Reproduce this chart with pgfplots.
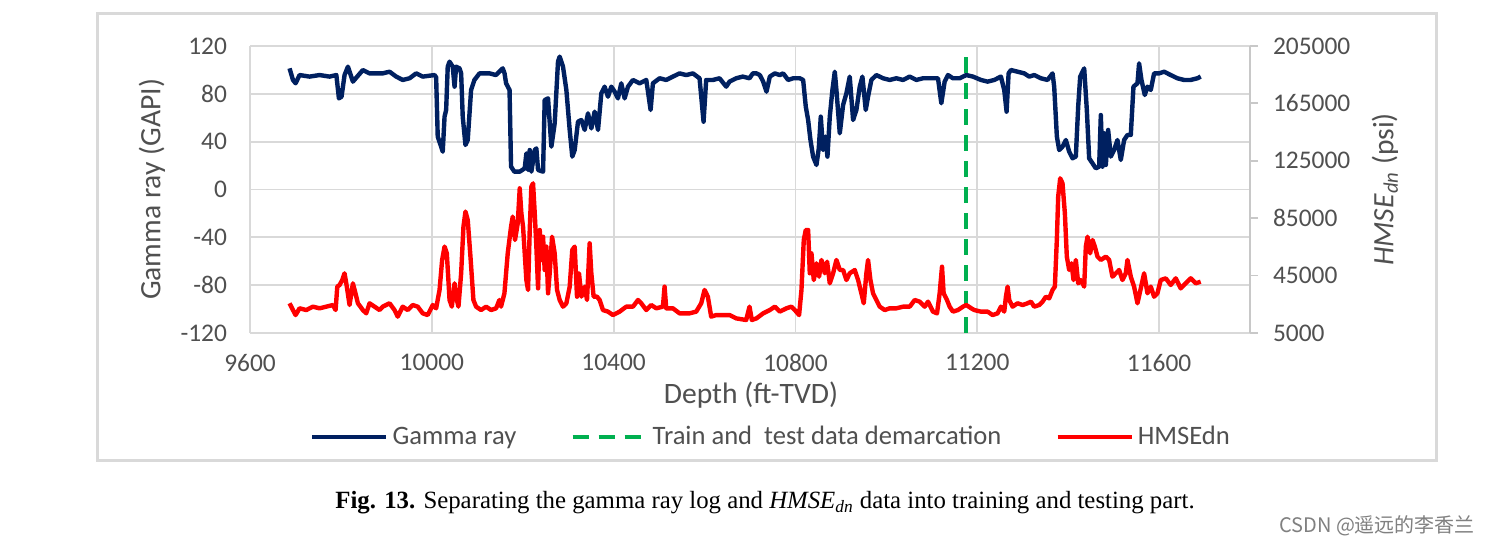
\documentclass[border=0pt]{standalone}
\usepackage{fontspec}
\setmainfont{Carlito}
\newfontfamily\capfont{Liberation Serif}
\newfontfamily\cjk{Noto Sans CJK SC}
\usepackage{pgfplots}
\usepackage{pgfplotstable}
\pgfplotsset{compat=1.18}
\definecolor{grblue}{HTML}{002060}
\definecolor{hred}{HTML}{FF0000}
\definecolor{dgreen}{HTML}{00B050}
\definecolor{gridc}{HTML}{D9D9D9}
\definecolor{axc}{HTML}{C8C8C8}
\definecolor{txt}{HTML}{505050}
\definecolor{framec}{HTML}{D9D9D9}

\pgfplotstableread{
d g
9687 101.3
9694.5 91.6
9700.3 88.8
9709 95.7
9731 94.4
9753 95.7
9775 94.4
9790 95.7
9795.6 76.2
9801.4 77.6
9808 95.7
9815.4 102.7
9826.4 90.2
9848.3 99.9
9863 97.1
9892 97.1
9907 98.5
9921.6 94.4
9936 91.6
9951 93
9965.5 97.1
9980 94.4
10006 95.7
10009.5 93.8
10013 44.2
10020.5 35.8
10024 31.6
10028 60.9
10031.5 66.5
10035 102.7
10039 106.9
10046 102.7
10050 86
10053.5 102.7
10061 101.3
10064.5 97.1
10068 60.9
10074 37.2
10079 41.4
10086.4 83.2
10093.7 91.6
10105 97.1
10127 97.1
10141 95.7
10156 101.3
10160 97.1
10163.4 88.8
10171 83.2
10174.3 19.1
10181.6 14.9
10193.4 14.9
10204.4 17.7
10208 30.2
10211.7 16.3
10215.4 33
10219 14.9
10226.4 33
10230 34.4
10233.7 16.3
10244.7 14.9
10248.3 74.8
10255.7 76.2
10263 35.8
10270.3 55.3
10277.6 106.9
10281.3 111.1
10288.6 102.7
10296 83.2
10303.3 49.8
10309 27.5
10314.3 33
10321.6 56.7
10329 58.1
10336.3 49.8
10343.6 63.7
10351 51.1
10358.2 65.1
10365.6 49.8
10372.9 80.4
10380.2 86
10387.5 77.6
10394.9 86
10402.2 81.8
10409.5 76.2
10416.8 88.8
10424.2 76.2
10431.5 86
10442.5 91.6
10457.1 88.8
10471.8 91.6
10481.3 66.5
10486.4 88.8
10501 93
10515.7 91.6
10530.4 94.4
10545 97.1
10559.7 95.7
10574.4 97.1
10589 93
10597.8 56.7
10603.6 91.6
10618.3 91.6
10633 93
10647.6 86
10655 90.2
10669.6 93
10684.2 94.4
10698.9 93
10706.2 97.1
10714.3 97.1
10721.6 95.7
10729 90.2
10736.3 81.8
10743.6 94.4
10754.6 97.1
10765.6 95.7
10772.9 97.1
10783.9 91.6
10794.9 93
10809.5 93
10816.9 91.6
10822.7 69.3
10827.9 58.1
10833 41.4
10838.8 27.5
10846.2 20.5
10851.3 34.4
10855.7 60.9
10860.8 33
10866 44.2
10870.4 27.5
10875.5 60.9
10881.3 83.2
10886.5 98.5
10890.1 83.2
10897.5 47
10904.8 70.7
10912.1 80.4
10919.4 94.4
10926.8 58.1
10934.1 66.5
10941.4 86
10947.3 94.4
10954.6 66.5
10959.7 77.6
10967 91.6
10978 95.7
10992.7 93
11007.3 91.6
11022 93
11036.7 91.6
11051.3 94.4
11066 91.6
11080.6 93
11095.3 93
11113.6 93
11120.9 72.1
11128.2 90.2
11135.5 95.7
11146.5 93
11161.2 93
11175.8 95.7
11190.5 94.4
11208 91.6
11222.7 90.2
11237.4 91.6
11252 94.4
11259.3 83.2
11264.5 65.1
11268.9 97.1
11274 99.9
11288.6 98.5
11303.3 97.1
11314.3 94.4
11325.3 95.7
11340 93
11354.6 91.6
11365.6 97.1
11369.2 86
11375.1 44.2
11380.2 33
11387.5 35.8
11394.9 41.4
11402.2 31.6
11409.5 26.1
11416.8 27.5
11422 69.3
11426.4 94.4
11435.2 101.3
11441 66.5
11446.1 26.1
11453.5 21.9
11460.8 17.7
11468.1 19.1
11471.8 62.3
11475.5 19.1
11479.1 47
11482.8 20.5
11487.9 49.8
11493.8 27.5
11501.1 33
11508.4 41.4
11515.7 24.7
11523.1 41.4
11530.4 45.6
11537.7 45.6
11543.6 86
11552.4 88.8
11556 105.5
11561.2 91.6
11568.5 79
11574.4 86
11581.7 83.2
11589 97.1
11600 97.1
11611 98.5
11625.6 95.7
11640.3 93
11655 91.6
11669.6 91.6
11684.2 93
11691.5 94.4
}\grtable

\pgfplotstableread{
d h
9687 25700
9694.5 21000
9700.3 17500
9709 22200
9723.8 21000
9738.4 23350
9753 22200
9767.7 23350
9782.4 24500
9788.3 21000
9792 37300
9797 38450
9803 41900
9808 46600
9813 37300
9819 24500
9826.4 39600
9832 32650
9837.4 25700
9848.3 21000
9855.7 18700
9863 25700
9874 23350
9885 21000
9892 23350
9907 25700
9918 21000
9925 16400
9936 23350
9947 21000
9958 24500
9969 23350
9980 18700
9991 17500
10002 24500
10009.5 22200
10017 35000
10022.7 55900
10028 65200
10033 60500
10039 28000
10044 23350
10050 39600
10053.5 30300
10058.6 23350
10064.5 46600
10069.6 79100
10074 89600
10079 83750
10085 58200
10091.5 28000
10097.4 23350
10108.4 21000
10119.4 23350
10130.4 21000
10141.4 22200
10148.7 28000
10152.3 23350
10159.7 32650
10167 60500
10174.3 79100
10178 86100
10183 69800
10189 81400
10193.4 105800
10197 88400
10200.7 79100
10204.4 60500
10208 41900
10211.7 35000
10215.4 76800
10219 107000
10222.7 109300
10226.4 88400
10230 65200
10233.7 36100
10237.4 76800
10241 55900
10244.7 72100
10248.3 48900
10252 65200
10255.7 32650
10259.3 46600
10264.5 72100
10270.3 60500
10275.5 35000
10281.3 28000
10288.6 23350
10296 25700
10303.3 37300
10309 62850
10314.3 65200
10319.4 30300
10323.8 46600
10329 30300
10336.3 37300
10341.4 28000
10347.2 67500
10350.9 46600
10356 30300
10363.4 30300
10369.2 28000
10376.5 21000
10387.5 19900
10398.5 17500
10413.2 19900
10427.8 23350
10442.5 23350
10453.5 28000
10460.8 25700
10471.8 21000
10482.8 24500
10493.8 22200
10508.4 23350
10512 37300
10515.7 22200
10530.4 22200
10545 18700
10567 18700
10581.7 19900
10592.7 25700
10600 35000
10607.3 30300
10614.6 16400
10625.6 17500
10640.3 17500
10655 17500
10669.6 15200
10691.6 14050
10698.9 23350
10704 14050
10714.3 15200
10729 18700
10743.6 21000
10754.6 23350
10765.6 19900
10780.2 22200
10791.2 23350
10798.5 21000
10808 17500
10813.2 35000
10818.3 69800
10822.7 76800
10827.9 76800
10831.5 46600
10835.2 60500
10840.3 41900
10846.2 53550
10852 44250
10857.2 55900
10864.5 46600
10869.6 54700
10875.5 39600
10882.8 46600
10890.1 55900
10897.5 48900
10904.8 48900
10912.1 41900
10919.4 46600
10930.4 48900
10937.8 41900
10945 32650
10950.2 25700
10956 46600
10959.7 55900
10964.9 41900
10970.7 32650
10978 28000
10985.4 23350
10996.4 21000
11007.3 22200
11022 22200
11036.7 23350
11051.3 23350
11062.3 28000
11073.3 26850
11084.3 23350
11091.6 26850
11102.6 19900
11111.4 18700
11117.2 32650
11122.4 51200
11126 32650
11133.3 28000
11139.2 23350
11146.5 19900
11157.5 21000
11168.5 23350
11175.8 24500
11186.8 22200
11193.4 21000
11208 19900
11222.7 19900
11233.7 17500
11244.7 18700
11252 23350
11259.3 19900
11263 30300
11266.7 37300
11270.3 28000
11277.6 23350
11288.6 25700
11299.6 24500
11310.6 25700
11318 26850
11325.3 23350
11336.3 24500
11343.6 26850
11351 30300
11358.2 29150
11365.6 35000
11370.7 37300
11375 69800
11378 100000
11382.4 112800
11387.5 109300
11392.7 88400
11397 58200
11402.2 48900
11407.3 53550
11411.7 41900
11416.8 55900
11422 39600
11427.8 41900
11435.2 37300
11438.8 65200
11442.5 72100
11448.3 60500
11453.5 69800
11458.6 65200
11464.5 58200
11471.8 55900
11482.8 58200
11490.1 55900
11497.4 44250
11504.8 46600
11512 48900
11519.4 41900
11526.7 46600
11530.4 55900
11537.7 44250
11545 37300
11552.4 25700
11559.7 36100
11567 46600
11574.4 32650
11581.7 37300
11589 30300
11596.3 32650
11603.6 41900
11614.6 43100
11625.6 38450
11636.6 43100
11647.6 36100
11658.6 39600
11669.6 43100
11680.6 39600
11691.5 40750
}\hmsetable

\begin{document}
\begin{tikzpicture}[x=1pt,y=1pt]
\useasboundingbox (0,0) rectangle (746,272.5);
\fill[white] (0,0) rectangle (746,272.5);
\draw[framec, line width=1.5pt] (48.5,42) rectangle (718,265.5);
\begin{axis}[
  at={(125pt,106pt)}, anchor=south west,
  width=500pt, height=143.5pt, scale only axis,
  xmin=9600, xmax=11800, ymin=-120, ymax=120,
  scaled x ticks=false, scaled y ticks=false,
  xtick={9600,10000,10400,10800,11200,11600},
  xticklabels={9600,10000,10400,10800,11200,11600},
  ytick={-120,-80,-40,0,40,80,120},
  yticklabels={-120,-80,-40,0,40,80,120},
  grid=major, major grid style={gridc, line width=0.9pt},
  axis line style={draw=none},
  major tick length=0pt,
  tick style={draw=none},
  ticklabel style={font=\fontsize{12.7}{15}\selectfont, text=txt},
  xticklabel shift=7pt, yticklabel shift=8pt,
  xlabel={Depth (ft-TVD)},
  ylabel={Gamma ray (GAPI)},
  label style={font=\fontsize{14.8}{17}\selectfont, text=txt},
  xlabel style={at={(axis description cs:0.501,-0.216)}, anchor=center},
  ylabel style={at={(axis description cs:-0.098,0.5)}, anchor=center},
]
\addplot[grblue, line width=2.2pt, line join=round] table[x=d,y=g] {\grtable};
\end{axis}
\begin{axis}[
  at={(125pt,106pt)}, anchor=south west,
  width=500pt, height=143.5pt, scale only axis,
  xmin=9600, xmax=11800, ymin=5000, ymax=205000,
  scaled x ticks=false, scaled y ticks=false,
  axis x line=none, axis y line*=right,
  ytick={5000,45000,85000,125000,165000,205000},
  yticklabels={5000,45000,85000,125000,165000,205000},
  axis line style={draw=axc, line width=0.9pt},
  ytick style={draw=axc, line width=0.9pt},
  tick align=outside, major tick length=4pt,
  yticklabel style={font=\fontsize{12.7}{15}\selectfont, text=txt},
  yticklabel shift=4pt,
  ylabel={\textit{HMSE}\textsubscript{\textit{dn}} (psi)},
  ylabel style={font=\fontsize{14.8}{17}\selectfont, text=txt, at={(axis description cs:1.135,0.5)}, anchor=center},
  legend columns=3,
  legend style={at={(axis description cs:0.522,-0.362)}, anchor=center, draw=none, fill=none,
    font=\fontsize{13.3}{16}\selectfont, text=txt,
    /tikz/every even column/.append style={column sep=25pt}},
  legend image code/.code={\draw[#1] (0pt,0pt) -- (37pt,0pt);},
]
\addlegendimage{grblue, line width=2.2pt}
\addlegendentry{Gamma ray}
\addplot[dgreen, line width=2.2pt, dash pattern=on 8pt off 5pt] coordinates {(11175,5000) (11175,200000)};
\addlegendentry{Train and\ \ test data demarcation}
\addplot[hred, line width=2.2pt, line join=round] table[x=d,y=h] {\hmsetable};
\addlegendentry{HMSEdn}
\end{axis}
\node[font=\capfont\fontsize{12.4}{14}\selectfont] at (382.5,21) {\textbf{Fig. 13.} Separating the gamma ray log and \textit{HMSE}\textsubscript{\textit{dn}} data into training and testing part.};
\node[font=\cjk\fontsize{10}{12}\selectfont, text=black!50, anchor=east] at (741,9.5) {CSDN @遥远的李香兰};
\end{tikzpicture}
\end{document}
